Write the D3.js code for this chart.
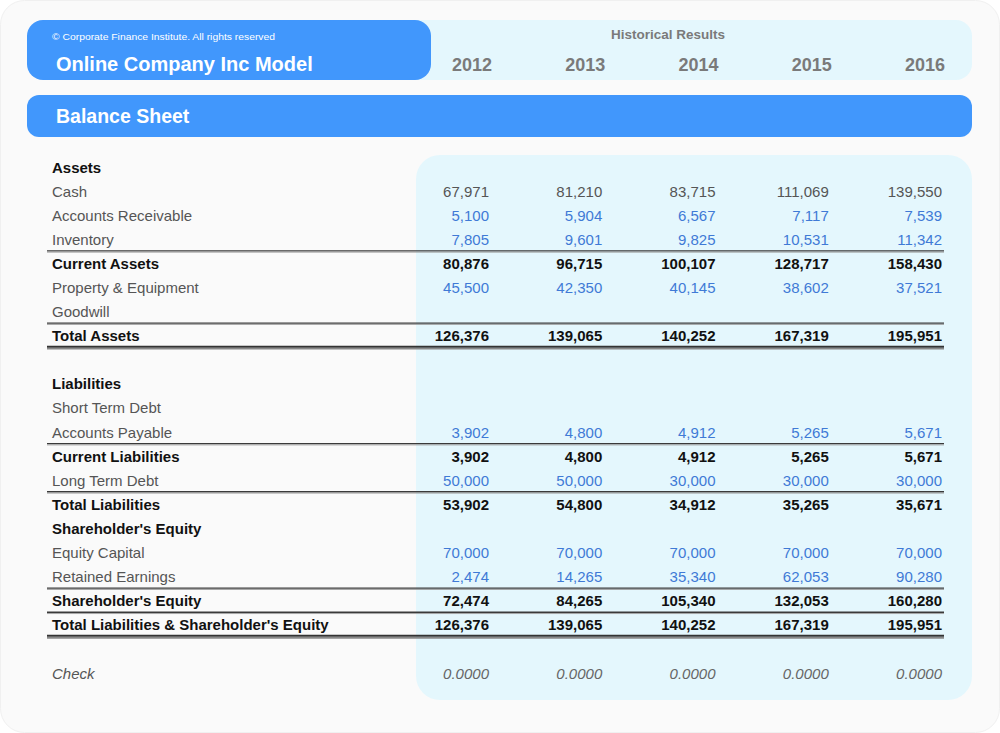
<!DOCTYPE html>
<html>
<head>
<meta charset="utf-8">
<script src="https://cdn.jsdelivr.net/npm/d3@7/dist/d3.min.js"></script>
<style>
  html, body { margin: 0; padding: 0; background: #ffffff; }
  svg { display: block; }
  text { font-family: "Liberation Sans", Arial, sans-serif; }
</style>
</head>
<body>
<svg id="chart" width="1000" height="733"></svg>
<script>
// ---------------- DATA ----------------
const years = ["2012", "2013", "2014", "2015", "2016"];

const cash                   = [67971, 81210, 83715, 111069, 139550];
const accountsReceivable     = [5100, 5904, 6567, 7117, 7539];
const inventory              = [7805, 9601, 9825, 10531, 11342];
const currentAssets          = [80876, 96715, 100107, 128717, 158430];
const propertyEquipment      = [45500, 42350, 40145, 38602, 37521];
const goodwill               = [null, null, null, null, null];
const totalAssets            = [126376, 139065, 140252, 167319, 195951];

const shortTermDebt          = [null, null, null, null, null];
const accountsPayable        = [3902, 4800, 4912, 5265, 5671];
const currentLiabilities     = [3902, 4800, 4912, 5265, 5671];
const longTermDebt           = [50000, 50000, 30000, 30000, 30000];
const totalLiabilities       = [53902, 54800, 34912, 35265, 35671];
const equityCapital          = [70000, 70000, 70000, 70000, 70000];
const retainedEarnings       = [2474, 14265, 35340, 62053, 90280];
const shareholdersEquity     = [72474, 84265, 105340, 132053, 160280];
const totalLiabilitiesEquity = [126376, 139065, 140252, 167319, 195951];
const check                  = [0, 0, 0, 0, 0];

// row table: label, values, kind
const rows = [
  { label: "Assets", values: null, kind: "header" },
  { label: "Cash", values: cash, kind: "plain" },
  { label: "Accounts Receivable", values: accountsReceivable, kind: "input" },
  { label: "Inventory", values: inventory, kind: "input" },
  { label: "Current Assets", values: currentAssets, kind: "total", lineAbove: "single" },
  { label: "Property & Equipment", values: propertyEquipment, kind: "input" },
  { label: "Goodwill", values: goodwill, kind: "plain" },
  { label: "Total Assets", values: totalAssets, kind: "total", lineAbove: "single", lineBelow: "double" },
  { label: "", values: null, kind: "blank" },
  { label: "Liabilities", values: null, kind: "header" },
  { label: "Short Term Debt", values: shortTermDebt, kind: "plain" },
  { label: "Accounts Payable", values: accountsPayable, kind: "input" },
  { label: "Current Liabilities", values: currentLiabilities, kind: "total", lineAbove: "single" },
  { label: "Long Term Debt", values: longTermDebt, kind: "input" },
  { label: "Total Liabilities", values: totalLiabilities, kind: "total", lineAbove: "single" },
  { label: "Shareholder's Equity", values: null, kind: "header" },
  { label: "Equity Capital", values: equityCapital, kind: "input" },
  { label: "Retained Earnings", values: retainedEarnings, kind: "input" },
  { label: "Shareholder's Equity", values: shareholdersEquity, kind: "total", lineAbove: "single" },
  { label: "Total Liabilities & Shareholder's Equity", values: totalLiabilitiesEquity, kind: "total", lineAbove: "single", lineBelow: "double" },
  { label: "", values: null, kind: "blank" },
  { label: "Check", values: check, kind: "check" }
];

// ---------------- DRAW ----------------
const svg = d3.select("#chart");
const W = 1000, H = 733;

const blue = "#4197fc";
const cyan = "#e4f7fd";

// outer panel
svg.append("rect").attr("x", 0.5).attr("y", 0.5).attr("width", W - 1).attr("height", H - 1)
  .attr("rx", 24).attr("fill", "#fafafa").attr("stroke", "#f0f0f0");

// header cyan band
svg.append("rect").attr("x", 400).attr("y", 20).attr("width", 572).attr("height", 60)
  .attr("rx", 16).attr("fill", cyan);
// header blue box
svg.append("rect").attr("x", 27).attr("y", 20).attr("width", 404).attr("height", 60)
  .attr("rx", 16).attr("fill", blue);

svg.append("text").attr("x", 52).attr("y", 40)
  .attr("fill", "#ffffff").attr("font-size", 9.5)
  .attr("textLength", 223).attr("lengthAdjust", "spacingAndGlyphs")
  .text("\u00A9 Corporate Finance Institute. All rights reserved");

svg.append("text").attr("x", 56).attr("y", 71)
  .attr("fill", "#ffffff").attr("font-size", 20).attr("font-weight", "bold")
  .text("Online Company Inc Model");

svg.append("text").attr("x", 668).attr("y", 39).attr("text-anchor", "middle")
  .attr("fill", "#7a7a7a").attr("font-size", 13.5).attr("font-weight", "bold")
  .text("Historical Results");

// balance sheet bar
svg.append("rect").attr("x", 27).attr("y", 95).attr("width", 945).attr("height", 42)
  .attr("rx", 12).attr("fill", blue);
svg.append("text").attr("x", 56).attr("y", 123)
  .attr("fill", "#ffffff").attr("font-size", 19.5).attr("font-weight", "bold")
  .text("Balance Sheet");

// data panel
svg.append("rect").attr("x", 416).attr("y", 155).attr("width", 556).attr("height", 545)
  .attr("rx", 24).attr("fill", cyan);

// scales
const x = d3.scalePoint().domain(years).range([489, 942]);
const y = d3.scaleLinear().domain([0, rows.length - 1]).range([167, 673]);

// year headers
svg.append("g").selectAll("text").data(years).join("text")
  .attr("x", d => x(d) + 3).attr("y", 71).attr("text-anchor", "end")
  .attr("fill", "#7a7a7a").attr("font-size", 18).attr("font-weight", "bold")
  .text(d => d);

const labelColor = { header: "#111", plain: "#555", input: "#555", total: "#111", check: "#555", blank: "#555" };
const valueColor = { plain: "#555", input: "#3f7ad6", total: "#111", check: "#666" };

const fmt = d3.format(",");
const fmtCheck = d3.format(".4f");

const rowG = svg.append("g").selectAll("g").data(rows).join("g")
  .attr("transform", (d, i) => `translate(0,${y(i)})`);

rowG.append("text")
  .attr("x", 52).attr("y", 5.5)
  .attr("font-size", 15)
  .attr("font-weight", d => (d.kind === "header" || d.kind === "total") ? "bold" : "normal")
  .attr("font-style", d => d.kind === "check" ? "italic" : "normal")
  .attr("fill", d => labelColor[d.kind])
  .text(d => d.label);

rowG.each(function(d) {
  if (!d.values) return;
  d3.select(this).selectAll("text.v")
    .data(d.values.map((v, j) => ({ v, year: years[j], kind: d.kind })))
    .join("text").attr("class", "v")
    .attr("x", e => x(e.year)).attr("y", 5.5)
    .attr("text-anchor", "end")
    .attr("font-size", 15)
    .attr("font-weight", e => e.kind === "total" ? "bold" : "normal")
    .attr("font-style", e => e.kind === "check" ? "italic" : "normal")
    .attr("fill", e => valueColor[e.kind])
    .text(e => e.v == null ? "" : (e.kind === "check" ? fmtCheck(e.v) : fmt(e.v)));
});

// rule lines
const lineX0 = 47, lineX1 = 944;
function rule(yy, type) {
  if (type === "single") {
    svg.append("line").attr("x1", lineX0).attr("x2", lineX1).attr("y1", yy).attr("y2", yy)
      .attr("stroke", "#3a3a3a").attr("stroke-width", 1.4);
    svg.append("line").attr("x1", lineX0).attr("x2", lineX1).attr("y1", yy + 1.3).attr("y2", yy + 1.3)
      .attr("stroke", "#9a9a9a").attr("stroke-width", 0.9);
  } else {
    svg.append("line").attr("x1", lineX0).attr("x2", lineX1).attr("y1", yy).attr("y2", yy)
      .attr("stroke", "#333").attr("stroke-width", 2);
    svg.append("line").attr("x1", lineX0).attr("x2", lineX1).attr("y1", yy + 2).attr("y2", yy + 2)
      .attr("stroke", "#888").attr("stroke-width", 1.6);
  }
}
rows.forEach((d, i) => {
  if (d.lineAbove) rule((y(i - 1) + y(i)) / 2 - 0.5, d.lineAbove);
  if (d.lineBelow) rule((y(i) + y(i + 1)) / 2 - 1, d.lineBelow);
});
</script>
</body>
</html>
